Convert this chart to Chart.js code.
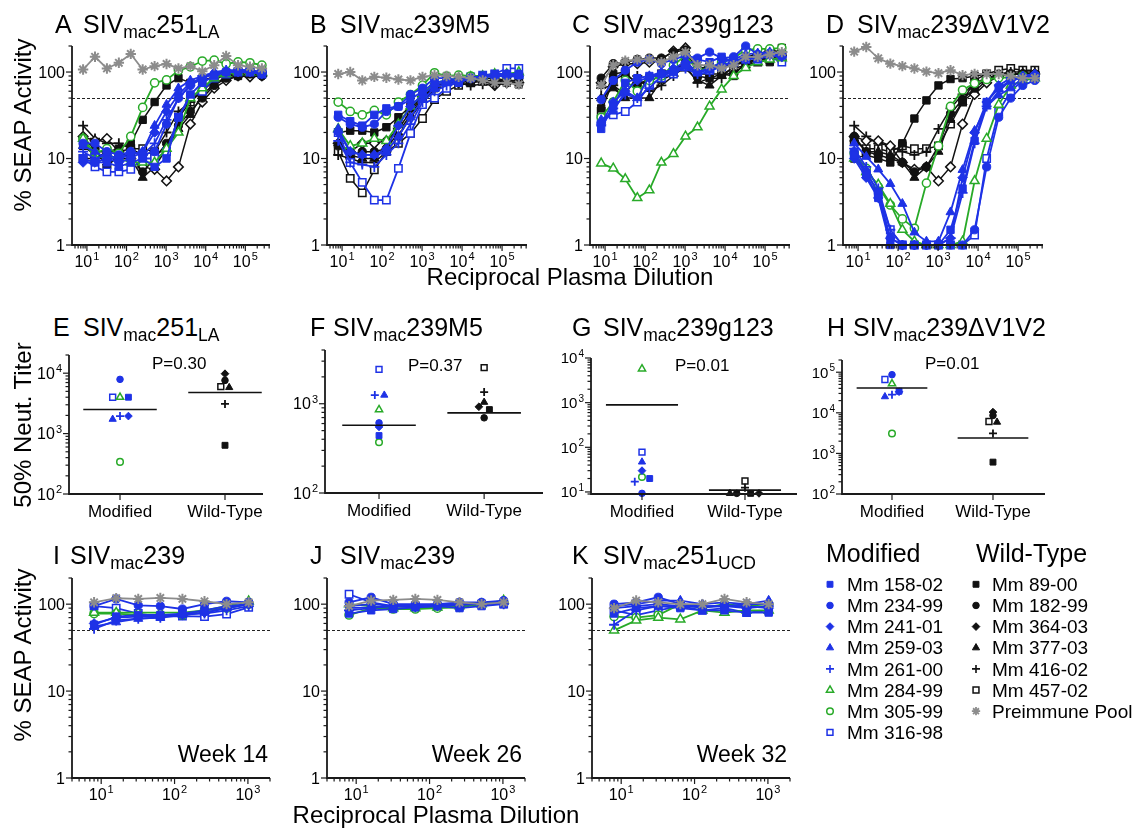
<!DOCTYPE html>
<html>
<head>
<meta charset="UTF-8" />
<script src="https://cdn.jsdelivr.net/npm/chart.js"></script>
<style>
  body { margin: 0; background: #fff; }
  #fig { position: relative; width: 1136px; height: 833px; overflow: hidden; font-family: "Liberation Sans", Arial, sans-serif; color: #000; }
  #fig canvas { position: absolute; }
  .t { position: absolute; white-space: nowrap; line-height: 1; }
  .sub { font-size: 0.7em; position: relative; top: 0.3em; }
</style>
</head>
<body>
<div id="fig"></div>
<script>
// ---- data ----
const animals = ["Mm 158-02", "Mm 234-99", "Mm 241-01", "Mm 259-03", "Mm 261-00", "Mm 284-99", "Mm 305-99", "Mm 316-98",
  "Mm 89-00", "Mm 182-99", "Mm 364-03", "Mm 377-03", "Mm 416-02", "Mm 457-02", "Preimmune Pool"];
const groups = ["Modified", "Wild-Type"];
const dilutionsLong = [8, 16, 32, 64, 128, 256, 512, 1024, 2048, 4096, 8192, 16384, 32768, 65536, 131072, 262144];
const dilutionsShort = [8, 16, 32, 64, 128, 256, 512, 1024];

// % SEAP activity, rows follow `animals`
const seapA = [
  [10, 9, 9, 8, 9, 10, 8, 10, 30, 55, 75, 90, 100, 100, 100, 95],
  [15, 15, 12, 11, 12, 11, 12, 25, 50, 70, 85, 95, 100, 105, 105, 100],
  [9, 9, 10, 9, 10, 12, 20, 35, 55, 75, 85, 95, 100, 100, 100, 100],
  [14, 12, 10, 10, 11, 12, 24, 42, 65, 80, 90, 100, 105, 105, 105, 100],
  [12, 10, 11, 10, 12, 11, 15, 28, 50, 70, 90, 95, 100, 100, 100, 95],
  [17, 10, 11, 10, 9, 9, 9, 13, 20, 50, 65, 85, 95, 100, 100, 100],
  [17, 11.5, 13, 11.5, 18, 39, 75, 81, 104, 115, 134, 137, 124, 131, 128, 120],
  [10, 8, 7, 7, 7.5, 10, 10, 12, 30, 52, 60, 85, 95, 100, 100, 95],
  [14, 12, 12, 13, 15, 28, 45, 70, 85, 75, 80, 88, 95, 90, 95, 95],
  [17, 13, 8, 11, 11, 7, 10, 15, 24, 35, 50, 70, 85, 90, 95, 90],
  [18, 16, 17, 12, 10, 8, 7.5, 5.5, 8, 25, 45, 65, 80, 90, 88, 90],
  [14, 11, 9, 10, 10, 6, 8, 13, 22, 32, 55, 72, 88, 95, 100, 100],
  [24, 17, 15, 15, 13, 11, 12, 20, 35, 45, 60, 80, 95, 100, 100, 100],
  [10, 10, 12, 12, 13, 13, 12, 12, 30, 45, 65, 85, 95, 100, 100, 100],
  [107, 150, 110, 128, 162, 107, 117, 124, 110, 117, 102, 120, 153, 120, 115, 110]
];
const seapB = [
  [32, 27, 24, 32, 38, 40, 48, 60, 75, 80, 75, 85, 90, 95, 95, 92],
  [30, 25, 23, 25, 35, 40, 55, 65, 85, 85, 80, 85, 90, 90, 95, 95],
  [20, 12, 11, 11, 13, 24, 40, 55, 70, 78, 80, 85, 88, 90, 90, 90],
  [22, 12, 11, 11, 12, 18, 30, 48, 65, 75, 80, 85, 90, 92, 92, 90],
  [16, 9, 8.5, 8, 11, 15, 25, 45, 60, 70, 78, 85, 88, 90, 90, 88],
  [22, 14, 15, 17, 16, 25, 40, 55, 75, 80, 85, 88, 90, 95, 95, 100],
  [45, 35, 32, 36, 32, 45, 55, 70, 98, 90, 92, 90, 90, 90, 92, 92],
  [20, 9, 5.3, 3.3, 3.3, 7.7, 19.5, 42, 50, 65, 80, 88, 92, 95, 110, 110],
  [20, 21, 21, 20, 23, 30, 40, 50, 65, 75, 80, 80, 80, 80, 75, 72],
  [14, 11, 12, 12, 13, 25, 38, 55, 70, 78, 80, 80, 80, 72, 78, 75],
  [15, 12, 15, 15, 16, 22, 35, 52, 68, 75, 75, 78, 80, 70, 75, 75],
  [15, 11, 10, 10, 13, 20, 32, 50, 65, 75, 80, 82, 85, 85, 80, 80],
  [11, 10, 9, 9, 12, 18, 30, 45, 62, 70, 75, 70, 72, 70, 75, 75],
  [12, 5.9, 4, 7.4, 12, 15, 19.5, 29, 48, 60, 70, 75, 78, 80, 80, 78],
  [95, 100, 80, 88, 86, 82, 80, 88, 92, 90, 88, 85, 80, 75, 75, 72]
];
const seapC = [
  [22, 40, 75, 85, 90, 95, 100, 120, 140, 130, 150, 130, 150, 140, 160, 155],
  [48, 80, 105, 130, 140, 125, 140, 155, 145, 170, 145, 150, 200, 160, 165, 160],
  [25, 45, 60, 80, 85, 95, 110, 130, 100, 110, 120, 130, 140, 150, 160, 150],
  [28, 35, 60, 50, 90, 100, 105, 120, 100, 110, 130, 140, 160, 165, 170, 160],
  [24, 38, 55, 50, 65, 90, 100, 110, 95, 100, 120, 130, 140, 150, 155, 150],
  [8.8, 7.7, 5.8, 3.5, 4.3, 9, 11.3, 18, 23, 40, 63, 90, 112, 130, 140, 145],
  [30, 45, 80, 60, 80, 90, 120, 155, 105, 110, 130, 145, 180, 185, 185, 190],
  [28, 32, 35, 45, 70, 85, 95, 115, 100, 105, 115, 130, 140, 145, 150, 130],
  [38, 95, 100, 70, 85, 95, 100, 140, 90, 85, 95, 90, 130, 160, 130, 190],
  [85, 125, 130, 140, 145, 145, 170, 180, 100, 120, 110, 130, 130, 140, 140, 160],
  [75, 115, 125, 125, 130, 140, 175, 190, 110, 115, 120, 130, 150, 160, 180, 170],
  [50, 65, 50, 50, 50, 80, 95, 110, 80, 70, 90, 100, 120, 140, 150, 150],
  [65, 70, 55, 90, 60, 70, 90, 120, 75, 85, 85, 120, 130, 140, 150, 155],
  [35, 80, 95, 75, 75, 95, 110, 120, 95, 95, 95, 110, 120, 130, 140, 145],
  [70, 120, 135, 140, 140, 130, 150, 170, 120, 120, 110, 120, 150, 150, 160, 170]
];
const seapD = [
  [11, 6.5, 3.5, 1, 1, 1, 1, 1, 1.5, 4.5, 16, 45, 65, 80, 85, 90],
  [12, 7, 4, 1.2, 1, 1, 1, 1, 1, 1, 1.5, 8, 30, 50, 70, 80],
  [10, 6, 3.5, 1.2, 1, 1, 1, 1, 1.2, 6, 20, 45, 70, 85, 90, 95],
  [15, 10.5, 7.5, 5.1, 3, 1.4, 1.1, 1.1, 2.4, 7.4, 21, 40, 54, 65, 85, 90],
  [13, 8, 4.5, 1.5, 1, 1, 1, 1, 1.2, 4, 15, 40, 60, 80, 90, 90],
  [10, 7, 5, 3, 1.5, 1.1, 1, 1, 1, 1.1, 5.5, 17, 42, 70, 80, 85],
  [11.5, 7.7, 4.7, 2.9, 2, 1.56, 5.2, 14, 40, 62, 74, 82, 86, 86, 90, 90],
  [11, 7, 4, 1.5, 1, 1, 1, 1, 1, 1, 1.3, 10, 35, 60, 80, 85],
  [10, 11, 10, 9, 15, 29, 47, 70, 83, 85, 90, 95, 95, 95, 95, 90],
  [18, 12, 11, 10, 9, 7, 8, 14, 33, 48, 65, 85, 90, 95, 95, 95],
  [18, 16, 16, 14, 9, 7.5, 8, 5.5, 8, 25, 55, 75, 90, 95, 95, 95],
  [17, 12, 12, 11, 9, 6, 8, 12, 28, 45, 60, 80, 90, 95, 95, 95],
  [24, 18, 15, 14, 12, 11, 12, 22, 38, 55, 75, 85, 95, 100, 100, 100],
  [16, 13, 13, 12, 14, 13, 13, 14, 25, 45, 80, 95, 105, 110, 105, 105],
  [172, 195, 144, 125, 117, 110, 101, 97, 105, 92, 95, 95, 95, 90, 85, 85]
];
// weeks 14/26/32: only modified animals and the preimmune pool
const seapI = [
  [58, 72, 75, 75, 78, 85, 95, 100],
  [95, 115, 97, 95, 88, 100, 108, 105],
  [60, 70, 72, 72, 75, 80, 90, 100],
  [55, 62, 68, 70, 75, 80, 90, 100],
  [52, 65, 68, 70, 78, 78, 85, 95],
  [80, 80, 80, 80, 80, 85, 95, 108],
  [78, 78, 75, 75, 75, 85, 90, 100],
  [95, 90, 78, 72, 73, 72, 77, 92],
  null, null, null, null, null, null,
  [105, 117, 115, 118, 115, 108, 100, 105]
];
const seapJ = [
  [78, 85, 88, 92, 95, 90, 95, 100],
  [105, 120, 100, 100, 100, 105, 105, 110],
  [95, 100, 95, 95, 98, 100, 100, 102],
  [90, 92, 95, 95, 100, 100, 100, 105],
  [85, 90, 95, 92, 95, 98, 100, 100],
  [100, 95, 90, 90, 92, 95, 100, 110],
  [75, 90, 88, 88, 90, 92, 100, 105],
  [130, 105, 95, 95, 95, 95, 100, 100],
  null, null, null, null, null, null,
  [95, 110, 112, 115, 112, 105, 100, 105]
];
const seapK = [
  [78, 90, 95, 90, 85, 85, 80, 80],
  [100, 105, 120, 100, 95, 95, 100, 100],
  [90, 95, 100, 95, 92, 95, 95, 90],
  [95, 100, 110, 110, 100, 105, 100, 110],
  [58, 85, 95, 95, 95, 95, 90, 95],
  [50, 65, 70, 67, 85, 80, 85, 85],
  [72, 70, 75, 100, 90, 100, 95, 100],
  [85, 75, 85, 95, 85, 90, 80, 85],
  null, null, null, null, null, null,
  [90, 110, 105, 100, 100, 115, 105, 100]
];

// 50% neutralization titers (first 14 animals), group geometric means, p values
const titerE = [4000, 7900, 1950, 1730, 1950, 4000, 340, 4000, 640, 7600, 9800, 5800, 3100, 6000];
const titerF = [440, 610, 550, 1250, 1250, 860, 370, 2430, 860, 695, 925, 1040, 1350, 2540];
const titerG = [20, 9.3, 30, 47, 17, 5700, 21.7, 78, 9.3, 9.3, 9.3, 9.3, 12.5, 17.6];
const titerH = [34000, 87000, 33000, 25000, 28000, 52000, 3100, 66000, 610, 8600, 10400, 5900, 3100, 6100];
const meanE = [2500, 4800];
const meanF = [575, 790];
const meanG = [890, 11];
const meanH = [41000, 2400];
const pValues = ["P=0.30", "P=0.37", "P=0.01", "P=0.01"];

// ---- styles ----
const BLUE = "#1e32e6", GREEN = "#28aa28", BLACK = "#111111", GRAY = "#8c8c8c";
const FONT = "'Liberation Sans', Arial, sans-serif";
const animalStyle = [
  { color: BLUE, shape: "rect" }, { color: BLUE, shape: "circle" }, { color: BLUE, shape: "rectRot" },
  { color: BLUE, shape: "triangle" }, { color: BLUE, shape: "cross" },
  { color: GREEN, shape: "triangle", open: true }, { color: GREEN, shape: "circle", open: true },
  { color: BLUE, shape: "rect", open: true },
  { color: BLACK, shape: "rect" }, { color: BLACK, shape: "circle" }, { color: BLACK, shape: "rectRot" },
  { color: BLACK, shape: "triangle" }, { color: BLACK, shape: "cross" }, { color: BLACK, shape: "rect", open: true },
  { color: GRAY, shape: "star" }
];
const shapeRadius = { rect: 5.2, circle: 4.1, rectRot: 4.8, triangle: 5.2, cross: 5, star: 5.2 };
// jitter of the dots around each group (category units)
const jitterE = [0.08, 0, 0.08, -0.07, 0, 0, 0, -0.07, 0, 0, 0, 0.04, 0, -0.04];
const jitterF = [0, 0, 0, 0.05, -0.04, 0, 0, 0, 0.05, 0, -0.05, 0, 0, 0];
const jitterG = [0.075, 0, 0, 0, -0.07, 0, 0, 0, 0.055, -0.08, 0.136, -0.146, 0, 0];
const jitterH = [0.07, 0, 0.07, -0.07, 0, 0, 0, -0.07, 0, 0, 0, 0.04, 0, -0.04];

const fig = document.getElementById("fig");

// ---- plugins: prism-like axes and the 50% dashed line ----
function logTicks(min, max) {
  const out = [];
  for (let d = Math.floor(Math.log10(min)); d <= Math.ceil(Math.log10(max)); d++) {
    for (let k = 1; k <= 9; k++) {
      const v = k * Math.pow(10, d);
      if (v >= min * 0.999 && v <= max * 1.001) out.push({ v, major: k === 1 });
    }
  }
  return out;
}
function powLabel(ctx, exp, x, y, size, align) {
  ctx.font = size + "px " + FONT;
  const w1 = ctx.measureText("10").width;
  const es = Math.round(size * 0.66);
  ctx.font = es + "px " + FONT;
  const w2 = ctx.measureText(String(exp)).width;
  const x0 = align === "right" ? x - w1 - w2 - 1 : x - (w1 + w2 + 1) / 2;
  ctx.textAlign = "left";
  ctx.font = size + "px " + FONT;
  ctx.fillText("10", x0, y);
  ctx.font = es + "px " + FONT;
  ctx.fillText(String(exp), x0 + w1 + 1, y - size * 0.42);
}
const prismAxes = {
  id: "prismAxes",
  afterDraw(chart, args, o) {
    const { ctx, chartArea: a } = chart;
    const sx = chart.scales.x, sy = chart.scales.y;
    ctx.save();
    ctx.strokeStyle = "#1a1a1a";
    ctx.fillStyle = "#000";
    ctx.lineWidth = 1.8;
    ctx.lineJoin = "miter";
    ctx.beginPath();
    ctx.moveTo(a.left, a.top);
    ctx.lineTo(a.left, a.bottom);
    ctx.lineTo(a.right, a.bottom);
    ctx.stroke();
    ctx.lineWidth = 1.2;
    // y ticks + labels
    ctx.textBaseline = "alphabetic";
    logTicks(sy.min, sy.max).forEach(t => {
      const p = sy.getPixelForValue(t.v);
      ctx.beginPath();
      ctx.moveTo(a.left, p);
      ctx.lineTo(a.left - (t.major ? 6 : 3.5), p);
      ctx.stroke();
      if (t.major) {
        const y = p + o.size * 0.36;
        if (o.yLabels === "pow") powLabel(ctx, Math.round(Math.log10(t.v)), a.left - 7, y, o.size, "right");
        else {
          ctx.font = o.size + "px " + FONT;
          ctx.textAlign = "right";
          ctx.fillText(String(t.v), a.left - 7, y);
        }
      }
    });
    // x ticks + labels
    if (o.cats) {
      o.cats.forEach((c, i) => {
        const p = sx.getPixelForValue(i + 1);
        ctx.beginPath();
        ctx.moveTo(p, a.bottom);
        ctx.lineTo(p, a.bottom + 6);
        ctx.stroke();
        ctx.font = o.catSize + "px " + FONT;
        ctx.textAlign = "center";
        ctx.fillText(c, p, a.bottom + 23);
      });
    } else {
      logTicks(sx.min, sx.max).forEach(t => {
        const p = sx.getPixelForValue(t.v);
        ctx.beginPath();
        ctx.moveTo(p, a.bottom);
        ctx.lineTo(p, a.bottom + (t.major ? 6 : 3.5));
        ctx.stroke();
        if (t.major) powLabel(ctx, Math.round(Math.log10(t.v)), p, a.bottom + 22, o.size, "center");
      });
    }
    ctx.restore();
  }
};
const refLine = {
  id: "refLine",
  beforeDatasetsDraw(chart, args, o) {
    if (o.value == null) return;
    const { ctx, chartArea: a } = chart;
    const y = Math.round(chart.scales.y.getPixelForValue(o.value)) + 0.5;
    ctx.save();
    ctx.strokeStyle = "#222";
    ctx.lineWidth = 1;
    ctx.setLineDash([3, 2]);
    ctx.beginPath();
    ctx.moveTo(a.left, y);
    ctx.lineTo(a.right, y);
    ctx.stroke();
    ctx.restore();
  }
};
Chart.register(prismAxes, refLine);

const PAD_L = 52, PAD_T = 12, PAD_R = 14, PAD_B = 38;
function makeCanvas(box) {
  const c = document.createElement("canvas");
  c.width = box.w + PAD_L + PAD_R;
  c.height = box.h + PAD_T + PAD_B;
  c.style.left = (box.x - PAD_L) + "px";
  c.style.top = (box.y - PAD_T) + "px";
  fig.appendChild(c);
  return c;
}
function baseOptions(xScale, yScale, axesOpts, ref) {
  const hidden = { display: false };
  return {
    responsive: false,
    animation: false,
    events: [],
    layout: { padding: { left: 0, top: PAD_T, right: PAD_R, bottom: 0 } },
    plugins: { legend: hidden, tooltip: { enabled: false }, prismAxes: axesOpts, refLine: { value: ref } },
    scales: {
      x: Object.assign({ bounds: "data", ticks: hidden, grid: hidden, border: hidden, afterFit: s => { s.height = PAD_B; } }, xScale),
      y: Object.assign({ bounds: "data", ticks: hidden, grid: hidden, border: hidden, afterFit: s => { s.width = PAD_L; } }, yScale)
    }
  };
}
function pointDataset(i, data, line, scale, forceOpen) {
  const st = animalStyle[i];
  const open = st.open || forceOpen;
  return {
    label: animals[i],
    data,
    showLine: line,
    borderColor: st.color,
    borderWidth: st.color === BLACK ? 1.5 : 1.8,
    pointStyle: st.shape,
    pointRadius: shapeRadius[st.shape] * scale,
    pointBorderWidth: st.shape === "star" ? 2 : (st.shape === "cross" ? 1.8 : (open ? 1.5 : 1)),
    pointBorderColor: st.color,
    pointBackgroundColor: open ? "#fff" : st.color,
    clip: false
  };
}
// draw order: pool on top, then modified, then wild-type underneath
const curveOrder = [14, 0, 1, 2, 3, 4, 5, 6, 7, 8, 9, 10, 11, 12, 13];

function curvePanel(box, xs, rows, xMin, xMax) {
  const datasets = [];
  curveOrder.forEach(i => {
    if (!rows[i]) return;
    const data = xs.map((x, k) => ({ x, y: rows[i][k] }));
    datasets.push(pointDataset(i, data, true, 1, i === 10));
  });
  new Chart(makeCanvas(box), {
    type: "scatter",
    data: { datasets },
    options: baseOptions(
      { type: "logarithmic", min: xMin, max: xMax },
      { type: "logarithmic", min: 1, max: 200 },
      { size: 16, yLabels: "plain" }, 50)
  });
}
function titerPanel(box, values, means, jitter, yMin, yMax, xMin, xMax, ySize) {
  const datasets = [];
  means.forEach((m, g) => {
    datasets.push({
      data: [{ x: g + 1 - 0.35, y: m }, { x: g + 1 + 0.35, y: m }],
      showLine: true, borderColor: BLACK, borderWidth: 1.6, pointRadius: 0, clip: false
    });
  });
  values.forEach((v, i) => {
    const g = i < 8 ? 1 : 2;
    datasets.push(pointDataset(i, [{ x: g + jitter[i], y: v }], false, 0.8, false));
  });
  new Chart(makeCanvas(box), {
    type: "scatter",
    data: { datasets },
    options: baseOptions(
      { type: "linear", min: xMin, max: xMax },
      { type: "logarithmic", min: yMin, max: yMax },
      { size: ySize, yLabels: "pow", cats: groups, catSize: 17 }, null)
  });
}

// ---- panels ----
curvePanel({ x: 72, y: 46, w: 198, h: 199 }, dilutionsLong, seapA, 4.2, 4.2e5);
curvePanel({ x: 327, y: 46, w: 200, h: 199 }, dilutionsLong, seapB, 4.2, 4.2e5);
curvePanel({ x: 590, y: 46, w: 200, h: 199 }, dilutionsLong, seapC, 4.2, 4.2e5);
curvePanel({ x: 843, y: 46, w: 200, h: 199 }, dilutionsLong, seapD, 4.2, 4.2e5);

titerPanel({ x: 69, y: 355, w: 194, h: 139 }, titerE, meanE, jitterE, 100, 2e4, 0.514, 2.362, 16);
titerPanel({ x: 325, y: 350, w: 218, h: 143 }, titerF, meanF, jitterF, 100, 4000, 0.486, 2.56, 16);
titerPanel({ x: 591, y: 358, w: 206, h: 136 }, titerG, meanG, jitterG, 9, 1e4, 0.505, 2.505, 15);
titerPanel({ x: 842, y: 360, w: 203, h: 134 }, titerH, meanH, jitterH, 100, 2e5, 0.505, 2.515, 15);

curvePanel({ x: 72, y: 578, w: 198, h: 200 }, dilutionsShort, seapI, 4, 2000);
curvePanel({ x: 327, y: 578, w: 198, h: 200 }, dilutionsShort, seapJ, 4, 2000);
curvePanel({ x: 592, y: 578, w: 198, h: 200 }, dilutionsShort, seapK, 4, 2000);

// ---- text ----
function addText(html, x, baseline, size, align) {
  const d = document.createElement("div");
  d.className = "t";
  d.innerHTML = html;
  d.style.fontSize = size + "px";
  d.style.left = x + "px";
  d.style.top = (baseline - 0.85 * size) + "px";
  if (align === "right") d.style.transform = "translateX(-100%)";
  if (align === "center") d.style.transform = "translateX(-50%)";
  fig.appendChild(d);
}
function addVText(text, cx, cy, size) {
  const d = document.createElement("div");
  d.className = "t";
  d.textContent = text;
  d.style.fontSize = size + "px";
  d.style.left = cx + "px";
  d.style.top = cy + "px";
  d.style.transform = "translate(-50%, -50%) rotate(-90deg)";
  fig.appendChild(d);
}
const strainNames = {
  s251LA: "SIV<span class='sub'>mac</span>251<span class='sub'>LA</span>",
  sM5: "SIV<span class='sub'>mac</span>239M5",
  sg123: "SIV<span class='sub'>mac</span>239g123",
  sV1V2: "SIV<span class='sub'>mac</span>239\u0394V1V2",
  s239: "SIV<span class='sub'>mac</span>239",
  sUCD: "SIV<span class='sub'>mac</span>251<span class='sub'>UCD</span>"
};
const titles = [
  ["A", 55, 83, 33, strainNames.s251LA], ["B", 310, 340, 33, strainNames.sM5],
  ["C", 572, 603, 33, strainNames.sg123], ["D", 826, 857, 33, strainNames.sV1V2],
  ["E", 53, 83, 336, strainNames.s251LA], ["F", 310, 333, 336, strainNames.sM5],
  ["G", 572, 603, 336, strainNames.sg123], ["H", 827, 853, 336, strainNames.sV1V2],
  ["I", 53, 70, 564, strainNames.s239], ["J", 310, 340, 564, strainNames.s239],
  ["K", 572, 603, 564, strainNames.sUCD]
];
titles.forEach(([letter, lx, sx, base, name]) => {
  addText(letter, lx, base, 25);
  addText(name, sx, base, 25);
});
addText("Week 14", 268, 763, 23, "right");
addText("Week 26", 522, 763, 23, "right");
addText("Week 32", 787, 763, 23, "right");
addText(pValues[0], 152, 369, 17);
addText(pValues[1], 408, 371, 17);
addText(pValues[2], 675, 371, 17);
addText(pValues[3], 925, 369, 17);
addText("Reciprocal Plasma Dilution", 570, 285, 24, "center");
addText("Reciprocal Plasma Dilution", 436, 823, 24, "center");
addVText("% SEAP Activity", 23, 125, 24);
addVText("% SEAP Activity", 23, 655, 24);
addVText("50% Neut. Titer", 23, 425, 24);

// ---- legend ----
addText(groups[0], 826, 562, 25);
addText(groups[1], 976, 562, 25);
const lg = document.createElement("canvas");
lg.width = 190; lg.height = 175;
lg.style.left = "815px"; lg.style.top = "572px";
fig.appendChild(lg);
const lctx = lg.getContext("2d");
animals.forEach((name, i) => {
  const col = i < 8 ? 0 : 1;
  const row = i < 8 ? i : i - 8;
  const cy = 584.3 + row * 21.15;
  const mx = col === 0 ? 830 : 976;
  const st = animalStyle[i];
  lctx.save();
  lctx.fillStyle = st.open ? "#fff" : st.color;
  lctx.strokeStyle = st.color;
  lctx.lineWidth = st.shape === "star" ? 1.8 : (st.shape === "cross" ? 1.6 : (st.open ? 1.5 : 1));
  Chart.helpers.drawPoint(lctx, { pointStyle: st.shape, radius: shapeRadius[st.shape] * 0.8, rotation: 0, borderWidth: lctx.lineWidth }, mx - 815, cy - 572);
  lctx.restore();
  addText(name, col === 0 ? 847 : 992, cy + 6.8, 19);
});
</script>
</body>
</html>
